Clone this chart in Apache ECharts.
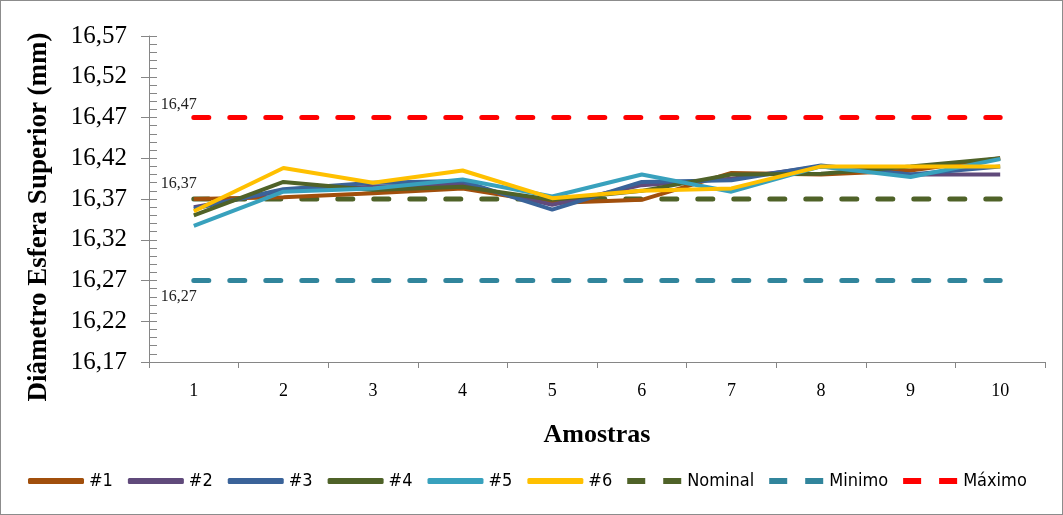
<!DOCTYPE html>
<html>
<head>
<meta charset="utf-8">
<script src="https://cdn.jsdelivr.net/npm/echarts@6/dist/echarts.min.js"></script>
<style>
  html, body { margin: 0; padding: 0; background: #fff; }
  #chart { width: 1061px; height: 513px; border: 1px solid #8c8c8c; }
</style>
</head>
<body>
<div id="chart"></div>
<script>
// Amostras 1..10
const categories = ['1', '2', '3', '4', '5', '6', '7', '8', '9', '10']

// valores (mm)
const s1 = [16.370, 16.372, 16.377, 16.383, 16.365, 16.369, 16.402, 16.400, 16.405, 16.420]
const s2 = [16.360, 16.380, 16.385, 16.388, 16.363, 16.387, 16.395, 16.410, 16.400, 16.400]
const s3 = [16.358, 16.382, 16.390, 16.392, 16.357, 16.391, 16.393, 16.411, 16.400, 16.410]
const s4 = [16.350, 16.391, 16.381, 16.385, 16.369, 16.380, 16.400, 16.401, 16.410, 16.420]
const s5 = [16.337, 16.379, 16.383, 16.394, 16.373, 16.400, 16.379, 16.410, 16.397, 16.419]
const s6 = [16.355, 16.408, 16.390, 16.405, 16.371, 16.380, 16.383, 16.410, 16.410, 16.410]
const nominal = [16.37, 16.37, 16.37, 16.37, 16.37, 16.37, 16.37, 16.37, 16.37, 16.37]
const minimo = [16.27, 16.27, 16.27, 16.27, 16.27, 16.27, 16.27, 16.27, 16.27, 16.27]
const maximo = [16.47, 16.47, 16.47, 16.47, 16.47, 16.47, 16.47, 16.47, 16.47, 16.47]

const yMin = 16.17
const yMax = 16.57
const yStep = 0.05

const fmt = v => Number(v).toFixed(2).replace('.', ',')

// ícones da legenda
const solidIcon = 'roundRect'
const dashIcon = 'path://M0,0h18v6h-18z M36,0h18v6h-18z'

const chart = echarts.init(document.getElementById('chart'))

const lineSeries = (name, data, color) => ({
  name, type: 'line', data,
  symbol: 'none',
  lineStyle: { color, width: 4 },
  itemStyle: { color },
  z: 3
})

// linha tracejada com rótulo apenas no primeiro ponto
const limitSeries = (name, data, color, pos, dy) => ({
  name, type: 'line',
  symbol: 'none',
  lineStyle: { color, width: 5, type: [15, 21], cap: 'round' },
  itemStyle: { color },
  z: 2,
  data: data.map((v, i) => i === 0 ? {
    value: v,
    symbol: 'circle', symbolSize: 1,
    label: {
      show: true, position: pos, offset: [-15, dy],
      formatter: p => fmt(p.value),
      fontFamily: 'Liberation Serif', fontSize: 16, color: '#222'
    }
  } : v)
})

const legendNames = ['#1', '#2', '#3', '#4', '#5', '#6', 'Nominal', 'Minimo', 'Máximo']

const option = {
  animation: false,
  grid: { left: 148, right: 17, top: 35, bottom: 152 },
  legend: {
    left: 22, top: 466,
    itemWidth: 56, itemHeight: 6, itemGap: 15,
    textStyle: { fontFamily: 'Liberation Sans Narrow, DejaVu Sans Condensed, Arial Narrow, sans-serif', fontSize: 18, color: '#000' },
    data: legendNames.map((n, i) => ({ name: n, icon: i < 6 ? solidIcon : dashIcon }))
  },
  xAxis: {
    type: 'category', data: categories,
    name: 'Amostras', nameLocation: 'middle', nameGap: 60,
    nameTextStyle: { fontFamily: 'Liberation Serif', fontSize: 26, fontWeight: 'bold', color: '#000' },
    axisLine: { lineStyle: { color: '#868686', width: 1 } },
    axisTick: { show: true, length: 6, lineStyle: { color: '#868686' } },
    axisLabel: { fontFamily: 'Liberation Serif', fontSize: 18, color: '#000', margin: 20 },
    splitLine: { show: false }
  },
  yAxis: [{
    type: 'value', min: yMin, max: yMax, interval: yStep,
    name: 'Diâmetro Esfera Superior (mm)', nameLocation: 'middle', nameGap: 96,
    nameTextStyle: { fontFamily: 'Liberation Serif', fontSize: 27, fontWeight: 'bold', color: '#000', padding: [0, 36, 0, 0] },
    axisLine: { show: true, lineStyle: { color: '#868686' } },
    axisTick: { show: true, length: 8, lineStyle: { color: '#868686' } },
    axisLabel: { formatter: fmt, fontFamily: 'Liberation Serif', fontSize: 25, color: '#000', margin: 22 },
    splitLine: { show: false }
  }, {
    // marcas internas + marcas secundárias
    type: 'value', min: yMin, max: yMax, interval: yStep, position: 'left',
    axisLine: { show: false },
    axisTick: { show: true, inside: true, length: 8, lineStyle: { color: '#868686' } },
    minorTick: { show: true, splitNumber: 5, length: 8, lineStyle: { color: '#868686' } },
    axisLabel: { show: false },
    splitLine: { show: false }
  }],
  series: [
    lineSeries('#1', s1, '#a14f0c'),
    lineSeries('#2', s2, '#604a7b'),
    lineSeries('#3', s3, '#3a6399'),
    lineSeries('#4', s4, '#4f6228'),
    lineSeries('#5', s5, '#38a1bd'),
    lineSeries('#6', s6, '#ffc000'),
    limitSeries('Nominal', nominal, '#4f6228', 'top', -2),
    limitSeries('Minimo', minimo, '#31859c', 'bottom', 3),
    limitSeries('Máximo', maximo, '#ff0000', 'top', 1)
  ]
}

chart.setOption(option)
</script>
</body>
</html>
